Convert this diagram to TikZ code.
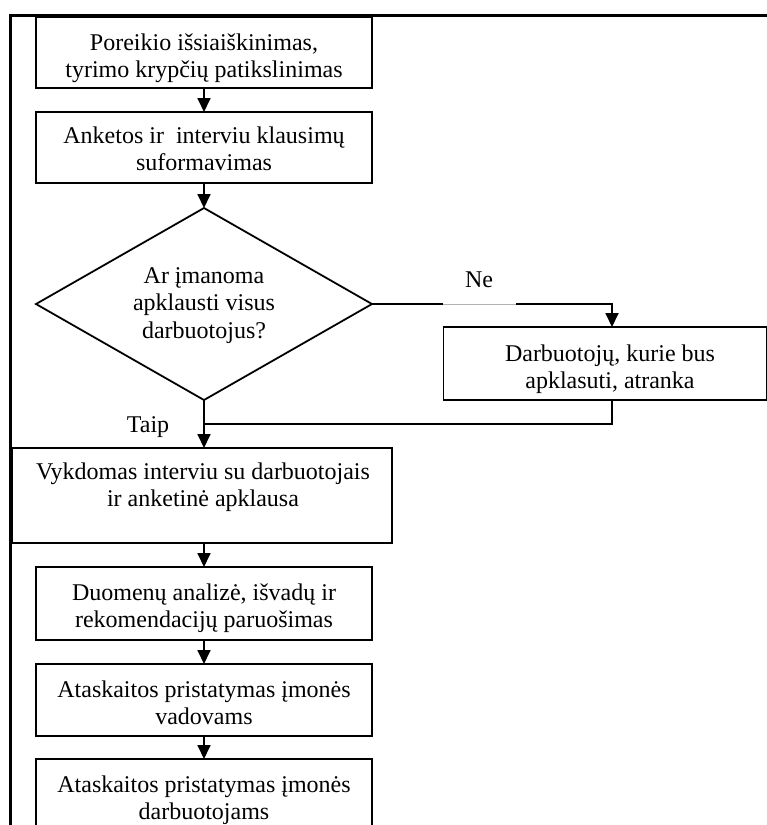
\documentclass[tikz,border=0pt]{standalone}
\usepackage{fontspec}
\setmainfont{Liberation Serif}
\usetikzlibrary{shapes.geometric,arrows.meta,calc}
\newcommand\firstln{\rule{0pt}{20pt}}
\begin{document}
\begin{tikzpicture}[x=1pt,y=-1pt,
 box/.style={draw, line width=1.8pt, rectangle, inner sep=0pt, outer sep=0pt},
 txt/.style={font=\fontsize{24}{27.6}\selectfont, align=center, anchor=north, inner sep=0pt},
 lbl/.style={font=\fontsize{24}{27.6}\selectfont, anchor=base, inner sep=0pt},
 arr/.style={line width=1.8pt, -{Triangle[length=14pt,width=13pt]}},
 conn/.style={line width=1.8pt}]
\useasboundingbox (0,0) rectangle (767,825);
\clip (0,0) rectangle (767,825);
% frame
\draw[line width=3pt] (10.5,826) -- (10.5,15) -- (768,15);
% boxes
\node[box, minimum width=336pt, minimum height=71pt] (b1) at (204,52.5) {};
\node[box, minimum width=336pt, minimum height=71pt] (b2) at (204,147.5) {};
\node[draw, diamond, line width=1.8pt, inner sep=0pt, outer sep=0pt, minimum width=336pt, minimum height=192pt] (d) at (204,304) {};
\node[box, minimum width=323pt, minimum height=73pt] (b3) at (605,363.5) {};
\node[box, line width=2.2pt, minimum width=380pt, minimum height=95pt] (b4) at (202,495.5) {};
\node[box, minimum width=336pt, minimum height=73pt] (b5) at (204,603.5) {};
\node[box, minimum width=336pt, minimum height=72pt] (b6) at (204,700) {};
\node[box, minimum width=336pt, minimum height=80pt] (b7) at (204,799) {};
% texts
\node[txt] (t1) at (204,30) {\firstln Poreikio išsiaiškinimas,\\tyrimo krypčių patikslinimas};
\node[txt] (t2) at (204,123) {\firstln Anketos ir\ \ interviu klausimų\\suformavimas};
\node[txt] (td) at (204,263) {\firstln Ar įmanoma\\apklausti visus\\darbuotojus?};
\node[txt] (t3) at (610,341) {\firstln Darbuotojų, kurie bus\\apklasuti, atranka};
\node[txt] (t4) at (203,459) {\firstln Vykdomas interviu su darbuotojais\\ir anketinė apklausa};
\node[txt] (t5) at (204,580) {\firstln Duomenų analizė, išvadų ir\\rekomendacijų paruošimas};
\node[txt] (t6) at (204,677) {\firstln Ataskaitos pristatymas įmonės\\vadovams};
\node[txt] (t7) at (204,772) {\firstln Ataskaitos pristatymas įmonės\\darbuotojams};
\node[lbl] (lne) at (479,287) {Ne};
\node[lbl] (ltaip) at (148,432) {Taip};
% connectors
\draw[arr] (b1.south) -- (b2.north);
\draw[arr] (b2.south) -- (d.north);
\coordinate (g1) at (443,304);
\coordinate (g2) at (516,304);
\coordinate (nc) at (612,304);
\draw[conn] (d.east) -- (g1);
\draw[line width=0.6pt, gray!60] (g1) -- (g2);
\draw[arr] (g2) -- (nc) -- (nc |- b3.north);
\coordinate (rj) at (204,424);
\draw[conn] (nc |- b3.south) |- (rj);
\draw[arr] (d.south) -- (d.south |- b4.north);
\draw[arr] (b4.south -| b5.north) -- (b5.north);
\draw[arr] (b5.south) -- (b6.north);
\draw[arr] (b6.south) -- (b7.north);
\end{tikzpicture}
\end{document}
